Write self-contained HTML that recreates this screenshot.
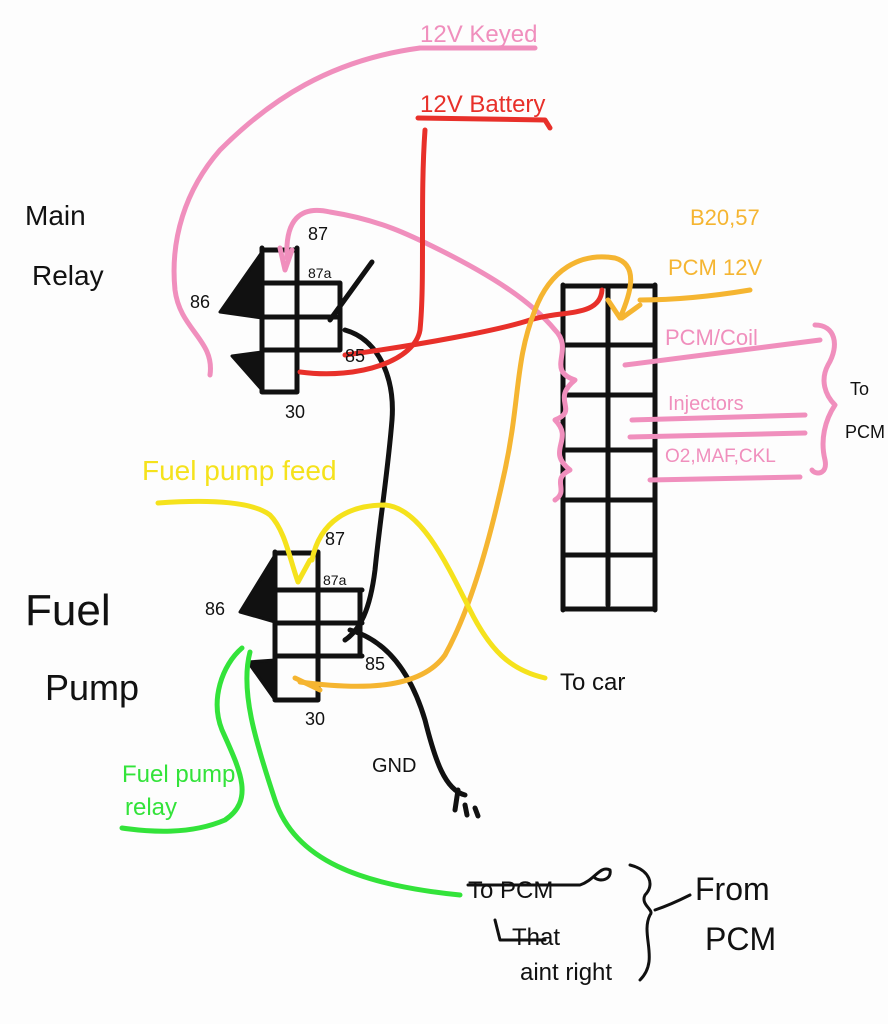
<!DOCTYPE html>
<html><head><meta charset="utf-8"><style>
html,body{margin:0;padding:0;background:#fdfdfd;}
svg{display:block}
text{font-family:"Liberation Sans",sans-serif;}
</style></head><body>
<svg width="888" height="1024" viewBox="0 0 888 1024" xmlns="http://www.w3.org/2000/svg">
<rect width="888" height="1024" fill="#fdfdfd"/>
<g fill="none" stroke-linecap="round" stroke-linejoin="round">
<!-- Main relay -->
<g stroke="#111" stroke-width="5">
<path d="M262 248 L262 392 M297 248 L297 392 M262 250 L297 250 M262 283 L340 283 M262 317 L340 317 M262 350 L340 350 M262 392 L297 392 M340 283 L340 350"/>
<path d="M372 262 L330 320"/>
</g>
<path d="M262 252 L220 312 L262 318 Z" fill="#111" stroke="#111" stroke-width="3"/>
<path d="M232 356 L262 352 L262 390 Z" fill="#111" stroke="#111" stroke-width="3"/>
<!-- Fuel pump relay -->
<g stroke="#111" stroke-width="5">
<path d="M275 552 L275 700 M318 552 L318 700 M275 553 L318 553 M275 590 L362 590 M275 623 L362 623 M275 656 L362 656 M275 700 L318 700 M360 590 L360 656"/>
</g>
<path d="M275 555 L240 612 L275 622 Z" fill="#111" stroke="#111" stroke-width="3"/>
<path d="M248 662 L275 660 L275 700 Z" fill="#111" stroke="#111" stroke-width="3"/>
<!-- Connector -->
<g stroke="#111" stroke-width="5">
<path d="M563 285 L563 610 M655 285 L655 610 M563 286 L655 286 M608 286 L608 605 M563 345 L655 345 M563 395 L655 395 M563 450 L655 450 M563 500 L655 500 M563 555 L655 555 M563 609 L655 609"/>
</g>
<!-- Black wires -->
<g stroke="#111" stroke-width="5">
<path d="M345 330 C380 340 395 380 392 420 C388 470 380 520 375 570 C370 610 360 630 345 640"/>
<path d="M350 630 C385 640 410 670 425 720 C435 760 445 790 465 795 M458 790 L455 810 M465 805 L467 815 M475 808 L478 816"/>
</g>
<!-- Pink -->
<g stroke="#f08fbd" stroke-width="5">
<path d="M420 48 L535 48"/>
<path d="M420 48 C330 60 270 100 220 150 C185 190 170 240 175 290 C180 330 215 340 210 375"/>
<path d="M287 258 C285 220 300 205 330 212 C380 220 410 235 440 250 C490 275 530 300 555 330 C575 350 545 370 575 380 C550 400 580 410 555 420 C575 440 545 450 570 470 C550 480 570 490 555 500"/>
<path d="M280 248 L285 270 L292 250"/>
<path d="M625 365 L820 340 M632 420 L805 415 M630 437 L805 433 M650 480 L800 477"/>
<path d="M815 325 C835 325 840 345 828 365 C820 380 825 395 835 405 C825 420 820 440 825 460 C828 475 815 475 812 470"/>
</g>
<!-- Red -->
<g stroke="#e8302a" stroke-width="5">
<path d="M418 118 L545 120 L550 128"/>
<path d="M425 130 C420 200 425 280 420 330 C415 360 360 380 300 372"/>
<path d="M345 355 C420 345 500 330 530 320 C560 310 600 318 602 290"/>
</g>
<!-- Orange -->
<g stroke="#f5b531" stroke-width="5">
<path d="M620 318 C630 295 640 265 615 258 C580 252 550 270 535 310 C515 360 520 400 505 470 C490 540 470 610 445 655 C420 690 360 690 300 682"/>
<path d="M295 678 L320 690"/>
<path d="M620 318 L608 300 M622 318 L640 305"/>
<path d="M640 300 C680 300 720 295 750 290"/>
</g>
<!-- Yellow -->
<g stroke="#f5e21c" stroke-width="5">
<path d="M158 503 C200 500 250 500 270 515 C285 530 290 560 298 582 L310 560"/>
<path d="M312 560 C320 520 350 505 385 505 C420 508 445 560 470 610 C490 650 510 670 545 678"/>
</g>
<!-- Green -->
<g stroke="#33e33a" stroke-width="5">
<path d="M242 648 C222 665 210 700 222 730 C240 770 255 800 225 820 C190 835 150 832 122 828"/>
<path d="M250 652 C240 690 255 740 275 800 C295 860 360 885 460 895"/>
</g>
<!-- Black brackets / misc -->
<g stroke="#111" stroke-width="3">
<path d="M468 885 L580 885 C595 880 600 865 610 870 C612 880 600 882 595 878"/>
<path d="M630 865 C650 870 655 885 645 895 C640 905 655 910 650 915 C640 935 660 960 640 980"/>
<path d="M655 910 C670 905 680 900 690 895"/>
<path d="M495 920 L500 940 L545 940"/>
</g>
</g>
<!-- Text -->
<g font-size="22">
<text x="420" y="42" fill="#f08fbd" font-size="24">12V Keyed</text>
<text x="420" y="112" fill="#e8302a" font-size="24">12V Battery</text>
<text x="25" y="225" fill="#111" font-size="28">Main</text>
<text x="32" y="285" fill="#111" font-size="28">Relay</text>
<text x="308" y="240" fill="#111" font-size="18">87</text>
<text x="308" y="278" fill="#111" font-size="14">87a</text>
<text x="190" y="308" fill="#111" font-size="18">86</text>
<text x="345" y="362" fill="#111" font-size="18">85</text>
<text x="285" y="418" fill="#111" font-size="18">30</text>
<text x="690" y="225" fill="#f5b531" font-size="22">B20,57</text>
<text x="668" y="275" fill="#f5b531" font-size="22">PCM 12V</text>
<text x="665" y="345" fill="#f08fbd" font-size="22">PCM/Coil</text>
<text x="668" y="410" fill="#f08fbd" font-size="20">Injectors</text>
<text x="665" y="462" fill="#f08fbd" font-size="19">O2,MAF,CKL</text>
<text x="850" y="395" fill="#111" font-size="18">To</text>
<text x="845" y="438" fill="#111" font-size="18">PCM</text>
<text x="142" y="480" fill="#f5e21c" font-size="28">Fuel pump feed</text>
<text x="325" y="545" fill="#111" font-size="18">87</text>
<text x="323" y="585" fill="#111" font-size="14">87a</text>
<text x="205" y="615" fill="#111" font-size="18">86</text>
<text x="365" y="670" fill="#111" font-size="18">85</text>
<text x="305" y="725" fill="#111" font-size="18">30</text>
<text x="25" y="625" fill="#111" font-size="44">Fuel</text>
<text x="45" y="700" fill="#111" font-size="36">Pump</text>
<text x="560" y="690" fill="#111" font-size="24">To car</text>
<text x="372" y="772" fill="#111" font-size="20">GND</text>
<text x="122" y="782" fill="#33e33a" font-size="24">Fuel pump</text>
<text x="125" y="815" fill="#33e33a" font-size="24">relay</text>
<text x="468" y="898" fill="#111" font-size="24">To PCM</text>
<text x="512" y="945" fill="#111" font-size="24">That</text>
<text x="520" y="980" fill="#111" font-size="24">aint right</text>
<text x="695" y="900" fill="#111" font-size="32">From</text>
<text x="705" y="950" fill="#111" font-size="32">PCM</text>
</g>
</svg>
</body></html>
